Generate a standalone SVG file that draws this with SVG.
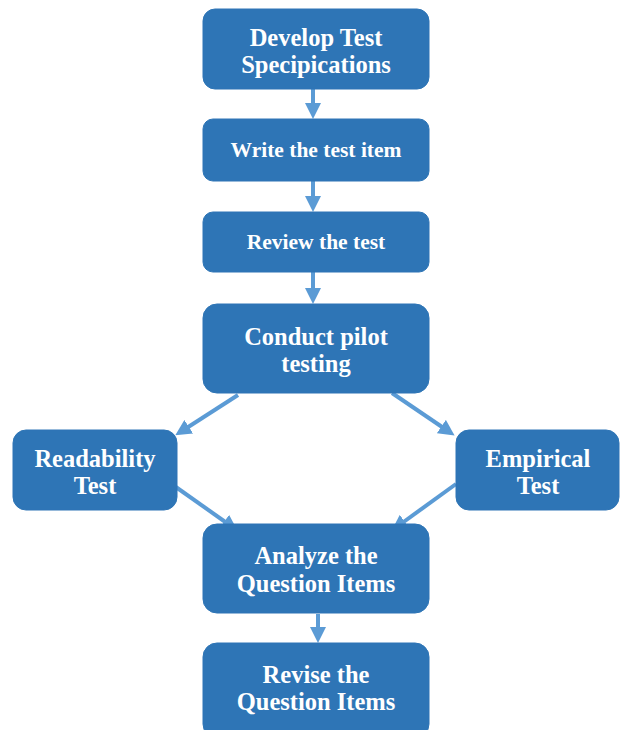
<svg xmlns="http://www.w3.org/2000/svg" width="624" height="730" viewBox="0 0 624 730">
<style>
.box{fill:#2E75B6;stroke:#2E75B6;stroke-width:1}
.t{font-family:"Liberation Serif",serif;font-weight:bold;fill:#fff;text-anchor:middle;dominant-baseline:central;font-size:24.5px}
.s{font-size:21.5px}
.c{stroke:#5B9BD5;stroke-width:4;fill:none}
</style>
<defs>
<marker id="ah" markerWidth="4" markerHeight="4" refX="2" refY="2" orient="auto" markerUnits="strokeWidth" viewBox="0 0 4 4">
<path d="M0,0 L4,2 L0,4 z" fill="#5B9BD5"/>
</marker>
</defs>
<rect width="624" height="730" fill="#fff"/>
<g id="connectors">
<line class="c" x1="313" y1="89" x2="313" y2="111" marker-end="url(#ah)"/>
<line class="c" x1="313" y1="181" x2="313" y2="204" marker-end="url(#ah)"/>
<line class="c" x1="313" y1="272" x2="313" y2="296" marker-end="url(#ah)"/>
<line class="c" x1="238" y1="395" x2="182" y2="431" marker-end="url(#ah)"/>
<line class="c" x1="392" y1="393" x2="448" y2="431" marker-end="url(#ah)"/>
<line class="c" x1="173" y1="485" x2="231" y2="526" marker-end="url(#ah)"/>
<line class="c" x1="456" y1="484" x2="398" y2="526" marker-end="url(#ah)"/>
<line class="c" x1="318" y1="614" x2="318" y2="635" marker-end="url(#ah)"/>
</g>
<g id="n1"><rect class="box" x="203" y="9" width="226" height="80" rx="12"/><text class="t" x="316" y="37">Develop Test</text><text class="t" x="316" y="64">Specipications</text></g>
<g id="n2"><rect class="box" x="203" y="119" width="226" height="62" rx="10"/><text class="t s" x="316" y="150">Write the test item</text></g>
<g id="n3"><rect class="box" x="203" y="212" width="226" height="60" rx="10"/><text class="t s" x="316" y="242">Review the test</text></g>
<g id="n4"><rect class="box" x="203" y="304" width="226" height="89" rx="14"/><text class="t" x="316" y="336">Conduct pilot</text><text class="t" x="316" y="363">testing</text></g>
<g id="n5"><rect class="box" x="13" y="430" width="164" height="80" rx="13"/><text class="t" x="95" y="458">Readability</text><text class="t" x="95" y="485">Test</text></g>
<g id="n6"><rect class="box" x="456" y="430" width="163" height="80" rx="13"/><text class="t" x="538" y="458">Empirical</text><text class="t" x="538" y="485">Test</text></g>
<g id="n7"><rect class="box" x="203" y="524" width="226" height="89" rx="14"/><text class="t" x="316" y="555">Analyze the</text><text class="t" x="316" y="583">Question Items</text></g>
<g id="n8"><rect class="box" x="203" y="643" width="226" height="95" rx="14"/><text class="t" x="316" y="674">Revise the</text><text class="t" x="316" y="701">Question Items</text></g>
</svg>
